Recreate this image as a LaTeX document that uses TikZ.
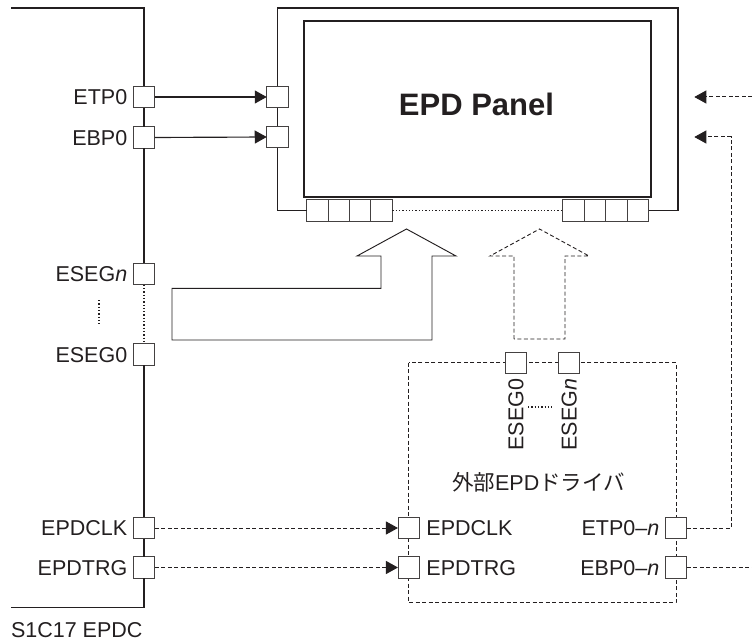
\documentclass[tikz,border=0pt]{standalone}
\usepackage{fontspec}
\setmainfont{Liberation Sans}
\newfontfamily\cjk{Noto Sans CJK JP}
\usetikzlibrary{arrows.meta}
\definecolor{ink}{HTML}{231F20}
\tikzset{
  mainline/.style={draw=ink, line width=1.15pt},
  padbox/.style={draw=ink!85, fill=white, line width=0.9pt, minimum width=21.5pt, minimum height=21.5pt, inner sep=0pt, outer sep=0pt},
  segpad/.style={padbox, minimum width=21.4pt, minimum height=22pt},
  lbl/.style={font=\fontsize{21.5}{25}\selectfont, text=ink, inner sep=0pt, outer sep=0pt, text height=15.4pt, text depth=0pt},
  dsh/.style={draw=ink, line width=1pt, dash pattern=on 4pt off 2.5pt},
  dotline/.style={draw=ink, line width=1.1pt, dash pattern=on 1.3pt off 2pt},
  arrtip/.style={-{Triangle[length=12pt,width=13pt]}},
}
\begin{document}
\begin{tikzpicture}[x=1pt,y=-1pt]
\useasboundingbox (0,0) rectangle (752,644);

% ---------- S1C17 EPDC block ----------
\coordinate (lt) at (11,8);
\coordinate (lc) at (144,8);
\coordinate (lb) at (144,607.5);
\coordinate (lbe) at (11,607.5);
\node[padbox] (lETP) at (144,97) {};
\node[padbox] (lEBP) at (144,137.5) {};
\node[padbox] (lSn) at (144,274) {};
\node[padbox] (lS0) at (144,354.5) {};
\node[padbox] (lCLK) at (144,528) {};
\node[padbox] (lTRG) at (144,567.5) {};
\draw[mainline] (lt) -- (lc) -- (lETP.north);
\draw[mainline] (lETP.south) -- (lEBP.north);
\draw[mainline] (lEBP.south) -- (lSn.north);
\draw[dotline] (lSn.south) -- (lS0.north);
\draw[mainline] (lS0.south) -- (lCLK.north);
\draw[mainline] (lCLK.south) -- (lTRG.north);
\draw[mainline] (lTRG.south) -- (lb) -- (lbe);

\node[lbl, anchor=east] (tETP) at ([xshift=-6pt]lETP.west) {ETP0};
\node[lbl, anchor=east] (tEBP) at ([xshift=-6pt]lEBP.west) {EBP0};
\node[lbl, anchor=east] (tSn) at ([xshift=-6pt]lSn.west) {ESEG\textit{n}};
\node[lbl, anchor=east] (tS0) at ([xshift=-6pt]lS0.west) {ESEG0};
\node[lbl, anchor=east] (tCLK) at ([xshift=-6pt]lCLK.west) {EPDCLK};
\node[lbl, anchor=east] (tTRG) at ([xshift=-6pt]lTRG.west) {EPDTRG};
\node[lbl, anchor=west] (tchip) at (11,630) {S1C17 EPDC};
\coordinate (vd1) at (99,300);
\coordinate (vd2) at (99,324);
\draw[dotline] (vd1) -- (vd2);

% ---------- EPD Panel ----------
\node[padbox] (pETP) at (277.5,97) {};
\node[padbox] (pEBP) at (277.5,137) {};
\node[segpad] (lp1) at (317.4,210.3) {};
\node[segpad] (lp2) at (338.8,210.3) {};
\node[segpad] (lp3) at (360.2,210.3) {};
\node[segpad] (lp4) at (381.6,210.3) {};
\node[segpad] (rp1) at (573.5,210.3) {};
\node[segpad] (rp2) at (595,210.3) {};
\node[segpad] (rp3) at (616.5,210.3) {};
\node[segpad] (rp4) at (638,210.3) {};
\coordinate (fr) at (678,8);
\draw[mainline] (pETP.north) |- (fr) |- (rp4.east);
\draw[mainline] (pETP.south) -- (pEBP.north);
\draw[mainline] (pEBP.south) |- (lp1.west);
\draw[dotline] (lp4.east) -- (rp1.west);
\node[draw=ink, line width=1.1pt, minimum width=347pt, minimum height=176pt, inner sep=0pt] (panel) at (477.5,109) {};
\node[font=\bfseries\fontsize{31}{36}\selectfont, text=ink, inner sep=0pt] (ptext) at (476.5,104) {EPD Panel};

\draw[mainline, arrtip] (lETP.east) -- (pETP.west);
\draw[mainline, arrtip] (lEBP.east) -- (pEBP.west);

% ---------- big arrows ----------
\draw[draw=ink, line width=0.95pt] (172,288.3) -- (381,288.3) -- (381,256) -- (357,256) -- (406.5,229) -- (456,256) -- (432,256) -- (432,340) -- (172,340) -- cycle;
\draw[dsh, line width=0.9pt] (514,339) -- (514,256) -- (490,256) -- (539.5,229) -- (589,256) -- (565,256) -- (565,339) -- cycle;

% ---------- external driver ----------
\draw[dsh] (408.7,362.7) rectangle (676,602.7);
\node[padbox] (dS0) at (515.7,363) {};
\node[padbox] (dSn) at (569,363) {};
\node[padbox] (dCLK) at (408.7,528) {};
\node[padbox] (dTRG) at (408.7,567.5) {};
\node[padbox] (dETP) at (676,528) {};
\node[padbox] (dEBP) at (676,567.5) {};
\node[lbl, rotate=90, anchor=east] (tdS0) at ([yshift=-5pt]dS0.south) {ESEG0};
\node[lbl, rotate=90, anchor=east] (tdSn) at ([yshift=-5pt]dSn.south) {ESEG\textit{n}};
\coordinate (hd1) at (528,407);
\coordinate (hd2) at (552,407);
\draw[dotline] (hd1) -- (hd2);
\node[lbl] (drvname) at (538.5,483) {{\cjk 外部}EPD{\cjk ドライバ}};
\node[lbl, anchor=west] (tdCLK) at ([xshift=7pt]dCLK.east) {EPDCLK};
\node[lbl, anchor=west] (tdTRG) at ([xshift=7pt]dTRG.east) {EPDTRG};
\node[lbl, anchor=east] (tdETP) at ([xshift=-6pt]dETP.west) {ETP0–\textit{n}};
\node[lbl, anchor=east] (tdEBP) at ([xshift=-6pt]dEBP.west) {EBP0–\textit{n}};

% ---------- connections ----------
\draw[dsh, arrtip] (lCLK.east) -- (dCLK.west);
\draw[dsh, arrtip] (lTRG.east) -- (dTRG.west);
\coordinate (rc) at (731.3,137);
\coordinate (tip2) at (694.3,137);
\draw[dsh, arrtip] (dETP.east) -| (rc) -- (tip2);
\coordinate (e1) at (752,97);
\coordinate (tip1) at (694.3,97);
\draw[dsh, arrtip] (e1) -- (tip1);
\coordinate (e2) at (752,567.5);
\draw[dsh] (dEBP.east) -- (e2);
\end{tikzpicture}
\end{document}
